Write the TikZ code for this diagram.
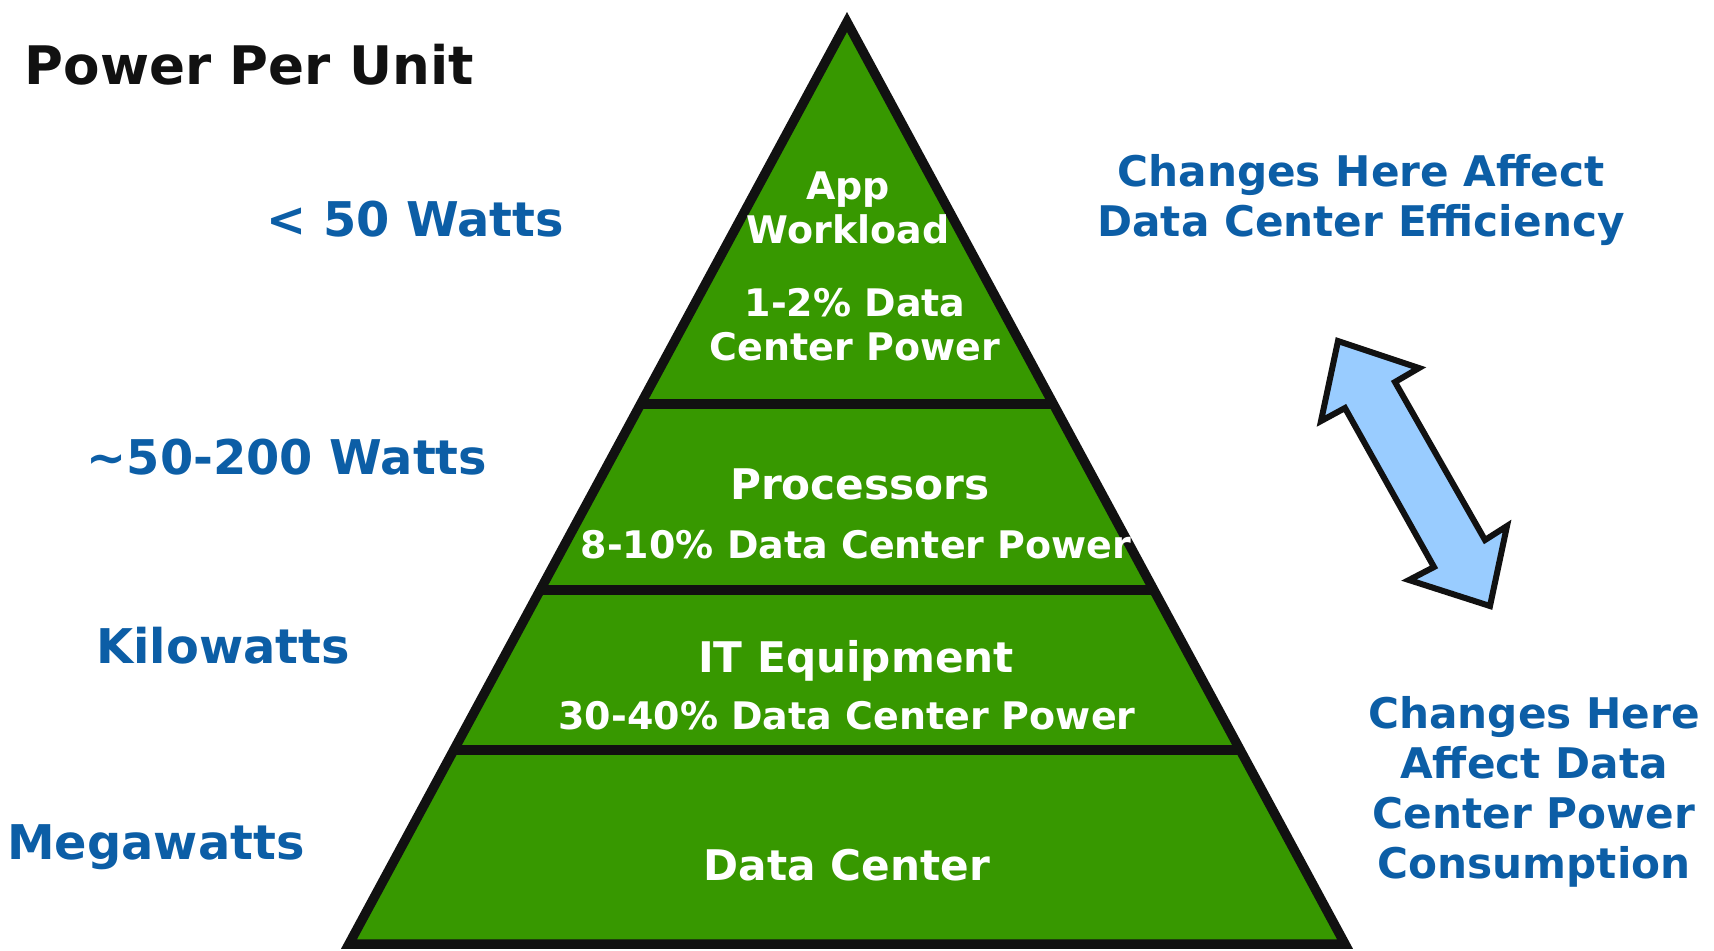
\documentclass[tikz,border=0pt]{standalone}
\usepackage{fontspec}
\setmainfont{DejaVu Sans}
\usetikzlibrary{calc,positioning}
\definecolor{tierColor}{RGB}{55,152,0}
\definecolor{labelColor}{RGB}{12,94,166}
\definecolor{arrowColor}{RGB}{153,204,255}
\definecolor{edgeColor}{RGB}{17,17,17}
\tikzset{tier/.style={text=white, font=\bfseries\fontsize{10.8}{12.6}\selectfont, align=center, inner sep=0pt}}
\tikzset{tiertitle/.style={tier, anchor=base, font=\bfseries\fontsize{12}{14}\selectfont}}
\tikzset{tiershare/.style={tier, anchor=base}}
\tikzset{power/.style={text=labelColor, font=\bfseries\fontsize{13.6}{16}\selectfont, anchor=base, inner sep=0pt}}
\tikzset{effect/.style={text=labelColor, font=\bfseries\fontsize{12}{14.2}\selectfont, align=center, inner sep=0pt}}
\tikzset{divider/.style={draw=edgeColor, line width=0.095cm}}

\begin{document}
\begin{tikzpicture}[x=0.01cm, y=-0.01cm]
\useasboundingbox (0,0) rectangle (1714,950);

% Pyramid
\coordinate (apex) at (847,22);
\coordinate (base_left) at (349,944);
\coordinate (base_right) at (1345,944);
\draw[divider, fill=tierColor] (apex) -- (base_left) -- (base_right) -- cycle;
\draw[divider] ($(apex)!0.4144!(base_left)$) -- ($(apex)!0.4144!(base_right)$);
\draw[divider] ($(apex)!0.6161!(base_left)$) -- ($(apex)!0.6161!(base_right)$);
\draw[divider] ($(apex)!0.7896!(base_left)$) -- ($(apex)!0.7896!(base_right)$);

% Tiers
\node (app) [tier] at (848,208) {App\\Workload};
\node (app_share) [tier] at (855,325) {1-2\% Data\\Center Power};
\node (processors) [tiertitle] at (860,499) {Processors};
\node (processors_share) [tiershare] at (856,558) {8-10\% Data Center Power};
\node (it_equipment) [tiertitle] at (856,672) {IT Equipment};
\node (it_share) [tiershare] at (847,729) {30-40\% Data Center Power};
\node (data_center) [tiertitle] at (847,880) {Data Center};

% Power per unit
\node (title) [anchor=base west, inner sep=0pt, text=edgeColor, font=\bfseries\fontsize{15.1}{17}\selectfont] at (24,84) {Power Per Unit};
\node (watts_low) [power] at (415,236) {< 50 Watts};
\node (watts_mid) [power] at (287,474) {\textasciitilde 50-200 Watts};
\node (kilowatts) [power] at (223,663) {Kilowatts};
\node (megawatts) [power] at (156,859) {Megawatts};

% Effects
\node (efficiency) [effect] at (1361,200) {Changes Here Affect\\Data Center Efficiency};
\node (consumption) [effect] at (1534,792) {Changes Here\\Affect Data\\Center Power\\Consumption};

% Double arrow
\draw[draw=edgeColor, line width=0.06cm, fill=arrowColor]
  (1338,341) -- (1419,368) -- (1395,382) -- (1485,540) -- (1507,526)
  -- (1490,606) -- (1409,580) -- (1434,567) -- (1345,408) -- (1321,421) -- cycle;

\end{tikzpicture}
\end{document}
